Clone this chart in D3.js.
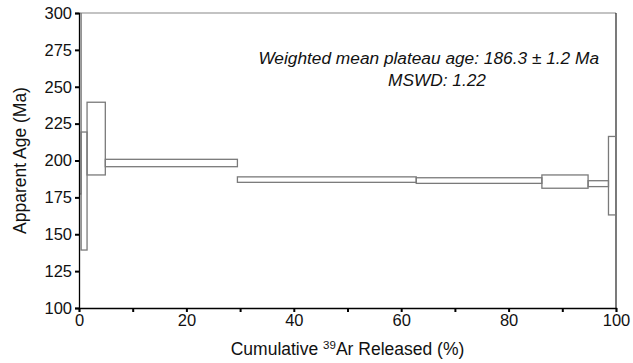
<!DOCTYPE html>
<html>
<head>
<meta charset="utf-8">
<script src="https://cdn.jsdelivr.net/npm/d3@7"></script>
<style>
  body { margin: 0; background: #fff; }
  text { font-family: "Liberation Sans", Arial, sans-serif; fill: #111; }
</style>
</head>
<body>
<div id="chart"></div>
<script>
// step heating data: cumulative 39Ar (%) bounds and age (Ma) error band
const stepStart = [0, 0.4, 1.5, 4.9, 29.5, 62.8, 86.2, 94.8, 98.6];
const stepEnd   = [0.4, 1.5, 4.9, 29.5, 62.8, 86.2, 94.8, 98.6, 100];
const ageLow    = [177.3, 139.3, 190.2, 195.8, 185.2, 184.5, 181.2, 182.3, 163.1];
const ageHigh   = [330, 219.3, 239.5, 200.8, 188.9, 188.3, 190.2, 186.3, 216.3];

const xTicks = [0, 10, 20, 30, 40, 50, 60, 70, 80, 90, 100];
const xLabels = [0, 20, 40, 60, 80, 100];
const yTicks = [100, 125, 150, 175, 200, 225, 250, 275, 300];

const plateauText = 'Weighted mean plateau age: 186.3 \u00b1 1.2 Ma';
const mswdText = 'MSWD: 1.22';

const W = 633, H = 363;
const margin = { left: 79, right: 17, top: 13, bottom: 55 };

const svg = d3.select('#chart').append('svg')
  .attr('width', W)
  .attr('height', H);

const x = d3.scaleLinear().domain([0, 100]).range([margin.left, W - margin.right]);
const y = d3.scaleLinear().domain([100, 300]).range([H - margin.bottom, margin.top]);

svg.append('defs').append('clipPath')
  .attr('id', 'plotclip')
  .append('rect')
  .attr('x', x(0))
  .attr('y', y(300))
  .attr('width', x(100) - x(0))
  .attr('height', y(100) - y(300));

// frame: top and right
svg.append('line')
  .attr('x1', x(0)).attr('x2', x(100))
  .attr('y1', y(300)).attr('y2', y(300))
  .attr('stroke', '#888').attr('stroke-width', 1.2);
svg.append('line')
  .attr('x1', x(100)).attr('x2', x(100))
  .attr('y1', y(300)).attr('y2', y(100))
  .attr('stroke', '#222').attr('stroke-width', 1.2);

// steps
const steps = stepStart.map((s, i) => ({ s: s, e: stepEnd[i], lo: ageLow[i], hi: ageHigh[i] }));
svg.append('g')
  .attr('clip-path', 'url(#plotclip)')
  .selectAll('rect')
  .data(steps)
  .enter()
  .append('rect')
  .attr('x', d => x(d.s))
  .attr('width', d => x(d.e) - x(d.s))
  .attr('y', d => y(d.hi))
  .attr('height', d => y(d.lo) - y(d.hi))
  .attr('fill', 'none')
  .attr('stroke', '#7a7a7a')
  .attr('stroke-width', 1.3);

// y axis
const yAxis = svg.append('g')
  .attr('transform', `translate(${x(0)},0)`)
  .call(d3.axisLeft(y).tickValues(yTicks).tickSize(4).tickPadding(3));
yAxis.select('.domain').attr('stroke', '#000').attr('stroke-width', 1.3);
yAxis.selectAll('.tick line').attr('stroke', '#000').attr('stroke-width', 2);
yAxis.selectAll('.tick text')
  .style('font-size', '16.5px')
  .style('font-family', '"Liberation Sans", Arial, sans-serif')
  .attr('fill', '#111');

// x axis
const xAxis = svg.append('g')
  .attr('transform', `translate(0,${y(100)})`)
  .call(d3.axisBottom(x).tickValues(xTicks).tickSize(4).tickPadding(2)
    .tickFormat(d => xLabels.includes(d) ? d : ''));
xAxis.select('.domain').attr('stroke', '#000').attr('stroke-width', 1.3);
xAxis.selectAll('.tick line').attr('stroke', '#000').attr('stroke-width', 2);
xAxis.selectAll('.tick text')
  .style('font-size', '16.5px')
  .style('font-family', '"Liberation Sans", Arial, sans-serif')
  .attr('fill', '#111');

// axis titles
svg.append('text')
  .attr('transform', `translate(26,${(y(100) + y(300)) / 2}) rotate(-90)`)
  .attr('text-anchor', 'middle')
  .style('font-size', '17.5px')
  .text('Apparent Age (Ma)');

const xt = svg.append('text')
  .attr('x', (x(0) + x(100)) / 2)
  .attr('y', 355)
  .attr('text-anchor', 'middle')
  .style('font-size', '17.5px');
xt.append('tspan').text('Cumulative ');
xt.append('tspan').attr('dy', -6).style('font-size', '11.5px').text('39');
xt.append('tspan').attr('dy', 6).text('Ar Released (%)');

// annotation
svg.append('text')
  .attr('x', 599)
  .attr('y', 64)
  .attr('text-anchor', 'end')
  .style('font-size', '17.3px')
  .style('font-style', 'italic')
  .text(plateauText);
svg.append('text')
  .attr('x', 437)
  .attr('y', 86)
  .attr('text-anchor', 'middle')
  .style('font-size', '17.3px')
  .style('font-style', 'italic')
  .text(mswdText);
</script>
</body>
</html>
